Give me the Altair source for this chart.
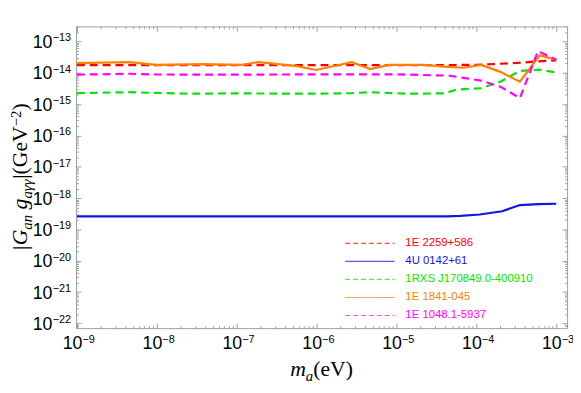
import altair as alt
import pandas as pd

# ---------------- data ----------------
names = ["1E 2259+586", "4U 0142+61", "1RXS J170849.0-400910", "1E 1841-045", "1E 1048.1-5937"]
colors = ["#ff0000", "#1414e6", "#00e600", "#ff8000", "#ff00ff"]
dashed = [True, False, True, False, True]

red_x = [1e-9, 1e-8, 1e-7, 1e-6, 1e-5, 3e-5, 1e-4, 3.2e-4, 5.6e-4, 1e-3]
red_y = [1.75e-14, 1.75e-14, 1.75e-14, 1.75e-14, 1.75e-14, 1.75e-14, 1.8e-14, 2.05e-14, 2.3e-14, 2.5e-14]

blue_x = [1e-9, 1e-8, 1e-7, 1e-6, 1e-5, 2.5e-5, 4.3e-5, 6.3e-5, 1.1e-4, 2.1e-4, 3.5e-4, 6e-4, 1e-3]
blue_y = [2.6e-19, 2.6e-19, 2.6e-19, 2.6e-19, 2.6e-19, 2.6e-19, 2.62e-19, 2.7e-19, 3.0e-19, 3.8e-19, 6.0e-19, 6.4e-19, 6.6e-19]

green_x = [1e-9, 4.4e-9, 2.5e-8, 1e-7, 1e-6, 2.75e-6, 4.7e-6, 1.4e-5, 4e-5, 5.6e-5, 1.15e-4, 2e-4, 3.5e-4, 6.2e-4, 1e-3]
green_y = [2.24e-15, 2.4e-15, 2.15e-15, 2.2e-15, 2.15e-15, 2.24e-15, 2.4e-15, 2.15e-15, 2.2e-15, 2.9e-15, 3.2e-15, 5.2e-15, 1.15e-14, 1.26e-14, 1.02e-14]

orange_x = [1e-9, 4.4e-9, 1e-8, 3.7e-8, 1.15e-7, 1.86e-7, 5.5e-7, 9.8e-7, 2.75e-6, 4.7e-6, 8.1e-6, 2.2e-5, 4.3e-5, 6.9e-5, 1.15e-4, 2e-4, 3.5e-4, 6.2e-4, 1e-3]
orange_y = [2.04e-14, 2.19e-14, 1.78e-14, 1.9e-14, 1.78e-14, 2.19e-14, 1.66e-14, 1.23e-14, 2.19e-14, 1.32e-14, 1.78e-14, 1.78e-14, 1.55e-14, 1.45e-14, 1.78e-14, 1.07e-14, 5.2e-15, 3.6e-14, 2.6e-14]

magenta_x = [1e-9, 4.4e-9, 1e-8, 1e-7, 1e-6, 1e-5, 4.5e-5, 6.9e-5, 1.15e-4, 2e-4, 3.5e-4, 5.9e-4, 1e-3]
magenta_y = [8.7e-15, 9.3e-15, 8.8e-15, 8.7e-15, 8.9e-15, 8.9e-15, 8.1e-15, 6.9e-15, 5.6e-15, 3.6e-15, 1.55e-15, 4.9e-14, 2.6e-14]

series_x = [red_x, blue_x, green_x, orange_x, magenta_x]
series_y = [red_y, blue_y, green_y, orange_y, magenta_y]

x_decades = [-9, -8, -7, -6, -5, -4, -3]
y_decades = [-22, -21, -20, -19, -18, -17, -16, -15, -14, -13]

# ---------------- scales ----------------
X_LO, X_HI = 10 ** -9.012, 10 ** -2.865
Y_LO, Y_HI = 10 ** -22.15, 10 ** -12.52
xscale = alt.Scale(type="log", domain=[X_LO, X_HI], nice=False)
yscale = alt.Scale(type="log", domain=[Y_LO, Y_HI], nice=False)

W, H = 498, 306
GRAY = "#a0a0a0"
SANS = "Liberation Sans"
SERIF = "Liberation Serif"


def minor_vals(decs, lo, hi):
    vals = []
    for d in range(min(decs) - 1, max(decs) + 1):
        for k in range(2, 10):
            v = k * 10.0 ** d
            if lo <= v <= hi:
                vals.append(v)
    return vals


x_major_vals = [10.0 ** d for d in x_decades]
y_major_vals = [10.0 ** d for d in y_decades]
x_minor_vals = minor_vals(x_decades, X_LO, X_HI)
y_minor_vals = minor_vals(y_decades, Y_LO, Y_HI)


def axis(orient, vals, size):
    # ticks point inward: negative offset equal to the tick length
    return alt.Axis(orient=orient, values=vals, tickSize=size, offset=-size, domain=False,
                    grid=False, tickColor=GRAY, tickWidth=1, labels=False, title=None)


dummy = pd.DataFrame({"x": [1e-6], "y": [1e-17]})


def axis_layer(xa, ya):
    return alt.Chart(dummy).mark_point(opacity=0).encode(
        x=alt.X("x:Q", scale=xscale, axis=xa),
        y=alt.Y("y:Q", scale=yscale, axis=ya),
    )


layers = [
    axis_layer(axis("bottom", x_major_vals, 5), axis("left", y_major_vals, 5)),
    axis_layer(axis("bottom", x_minor_vals, 2.5), axis("left", y_minor_vals, 2.5)),
    axis_layer(axis("top", x_major_vals, 5), axis("right", y_major_vals, 5)),
    axis_layer(axis("top", x_minor_vals, 2.5), axis("right", y_minor_vals, 2.5)),
]

# ---------------- tick labels "10" + superscript exponent ----------------
xl = pd.DataFrame({"v": x_major_vals, "base": ["10"] * len(x_decades),
                   "exp": ["−" + str(-d) for d in x_decades]})
yl = pd.DataFrame({"v": y_major_vals, "base": ["10"] * len(y_decades),
                   "exp": ["−" + str(-d) for d in y_decades]})

layers.append(alt.Chart(xl).mark_text(align="right", baseline="alphabetic", dx=5.5,
                                      font=SANS, fontSize=18, color="black").encode(
    x=alt.X("v:Q", scale=xscale, axis=None), y=alt.value(H + 21), text="base:N"))
layers.append(alt.Chart(xl).mark_text(align="left", baseline="alphabetic", dx=5.5,
                                      font=SANS, fontSize=11, color="black").encode(
    x=alt.X("v:Q", scale=xscale, axis=None), y=alt.value(H + 15), text="exp:N"))
layers.append(alt.Chart(yl).mark_text(align="right", baseline="alphabetic", dy=6.5,
                                      font=SANS, fontSize=18, color="black").encode(
    y=alt.Y("v:Q", scale=yscale, axis=None), x=alt.value(-24), text="base:N"))
layers.append(alt.Chart(yl).mark_text(align="right", baseline="alphabetic", dy=0,
                                      font=SANS, fontSize=11, color="black").encode(
    y=alt.Y("v:Q", scale=yscale, axis=None), x=alt.value(-5), text="exp:N"))

# ---------------- data lines ----------------
for name, col, dsh, xs, ys in zip(names, colors, dashed, series_x, series_y):
    df = pd.DataFrame({"m": xs, "g": ys, "name": name})
    mk = dict(color=col, strokeWidth=2.2, clip=True)
    if dsh:
        mk["strokeDash"] = [8, 5]
    layers.append(alt.Chart(df).mark_line(**mk).encode(
        x=alt.X("m:Q", scale=xscale, axis=None),
        y=alt.Y("g:Q", scale=yscale, axis=None),
    ))

# ---------------- legend (inside plot, lower right) ----------------
for i, (name, col, dsh) in enumerate(zip(names, colors, dashed)):
    ypos = 220 + i * 18.3
    lk = dict(color=col, strokeWidth=1.2, opacity=0.7)
    if dsh:
        lk["strokeDash"] = [5, 3]
    leg_df = pd.DataFrame({"label": [name]})
    layers.append(alt.Chart(leg_df).mark_rule(**lk).encode(
        x=alt.value(273), x2=alt.value(323), y=alt.value(ypos)))
    layers.append(alt.Chart(leg_df).mark_text(
        align="left", baseline="middle", font=SANS, fontSize=11.5, color=col
    ).encode(x=alt.value(334), y=alt.value(ypos), text="label:N"))

# ---------------- axis titles built from pieces (italic / sub / superscripts) ----------------
WIDTH = {
    (False, "|"): 0.2, (False, "("): 0.333, (False, ")"): 0.333, (False, "G"): 0.722,
    (False, "e"): 0.444, (False, "V"): 0.722, (False, "−"): 0.564, (False, "2"): 0.5,
    (True, "|"): 0.276, (True, "G"): 0.722, (True, "a"): 0.5, (True, "n"): 0.5,
    (True, "g"): 0.5, (True, "γ"): 0.42, (True, "m"): 0.722, (True, " "): 0.25,
    (False, " "): 0.25,
}


def piece_width(text, size, italic):
    return sum(WIDTH.get((italic, c), 0.5) for c in text) * size


def title_layers(pieces, x0, y0, vertical):
    out = []
    pos = 0.0
    for text, size, italic, shift in pieces:
        shown = text.lstrip()
        lead = piece_width(text[: len(text) - len(shown)], size, italic)
        mk = dict(align="left", baseline="alphabetic", font=SERIF, fontSize=size,
                  fontStyle="italic" if italic else "normal", color="black")
        if vertical:
            mk["angle"] = 270
            xv, yv = x0 + shift, y0 - pos - lead
        else:
            xv, yv = x0 + pos + lead, y0 + shift
        out.append(alt.Chart(pd.DataFrame({"t": [shown]})).mark_text(**mk).encode(
            x=alt.value(xv), y=alt.value(yv), text="t:N"))
        pos += piece_width(text, size, italic)
    return out, pos


y_title = [("|G", 22, True, 0), ("an", 15, True, 5), (" g", 22, True, 0), ("aγγ", 15, True, 5),
           ("|(GeV", 22, False, 0), ("−2", 15, False, -6), (")", 22, False, 0)]
x_title = [("m", 22, True, 0), ("a", 15, True, 5), ("(eV)", 22, False, 0)]

_, ylen = title_layers(y_title, 0, 0, True)
_, xlen = title_layers(x_title, 0, 0, False)
yt, _ = title_layers(y_title, -50, H / 2 + ylen / 2, True)
xt, _ = title_layers(x_title, W / 2 - xlen / 2, H + 49, False)
layers += yt + xt

chart = alt.layer(*layers).resolve_axis(x="independent", y="independent").properties(
    width=W, height=H,
    autosize=alt.AutoSizeParams(type="none"),
    padding={"left": 69, "top": 16, "right": 6, "bottom": 55},
).configure_view(stroke=GRAY, strokeWidth=1)

chart.save("out.html", embed_options={"renderer": "svg", "actions": False})
